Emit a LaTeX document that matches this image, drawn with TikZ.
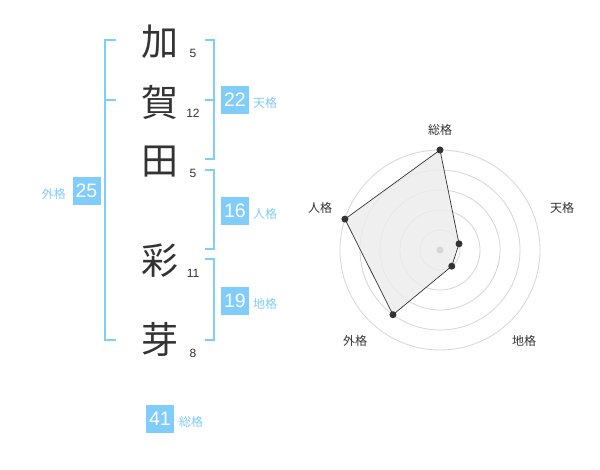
\documentclass[tikz,border=0pt]{standalone}
\usepackage{fontspec}
\setmainfont{Liberation Sans}
\newfontfamily\cjk{Noto Sans CJK JP}
\definecolor{sky}{RGB}{128,204,250}
\definecolor{ink}{RGB}{51,51,51}
\definecolor{ring}{RGB}{214,214,214}
\begin{document}
\begin{tikzpicture}[x=1pt,y=-1pt,
  kanji/.style={font=\cjk\fontsize{37}{37}\selectfont, text=ink, inner sep=0pt},
  strokes/.style={font=\fontsize{12}{12}\selectfont, text=ink, inner sep=0pt},
  numbox/.style={fill=sky, text=white, minimum width=28pt, minimum height=28pt, inner sep=0pt, font=\fontsize{19.5}{19.5}\selectfont},
  kaku/.style={font=\cjk\fontsize{12}{12}\selectfont, text=sky, inner sep=0pt},
  brk/.style={draw=sky, line width=2pt},
  rlabel/.style={font=\cjk\fontsize{12}{12}\selectfont, text=ink, inner sep=0pt},
  pt/.style={circle, fill=ink, inner sep=0pt, minimum size=7pt},
]
\useasboundingbox (0,0) rectangle (600,470);
\fill[white] (0,0) rectangle (600,470);

% kanji
\node[kanji] (k1) at (160,42) {加};
\node[kanji] (k2) at (160,102) {賀};
\node[kanji] (k3) at (160,162) {田};
\node[kanji] (k4) at (160,261) {彩};
\node[kanji] (k5) at (160,339) {芽};
% stroke counts
\node[strokes] (s1) at (193,53) {5};
\node[strokes] (s2) at (193,113) {12};
\node[strokes] (s3) at (193,173) {5};
\node[strokes] (s4) at (193,273) {11};
\node[strokes] (s5) at (193,353) {8};

% outer bracket (left)
\coordinate (la) at (116,40);
\coordinate (lb) at (116,340);
\draw[brk] (la) -- (105,40) -- (105,340) -- (lb);
\draw[brk] (105,100) -- (116,100);

% right brackets
\draw[brk] (205,40) -- (214,40) -- (214,159) -- (205,159);
\draw[brk] (205,100) -- (214,100);
\draw[brk] (205,170) -- (214,170) -- (214,249) -- (205,249);
\draw[brk] (205,259) -- (214,259) -- (214,340) -- (205,340);

% boxes
\node[numbox] (ten) at (235,100) {22};
\node[kaku, anchor=west] (tenl) at (253,103) {天格};
\node[numbox] (jin) at (235,211) {16};
\node[kaku, anchor=west] (jinl) at (253,214) {人格};
\node[numbox] (chi) at (235,301) {19};
\node[kaku, anchor=west] (chil) at (253,304) {地格};
\node[numbox] (gai) at (86.5,191) {25};
\node[kaku, anchor=east] (gail) at (66,194) {外格};
\node[numbox] (sou) at (160,419) {41};
\node[kaku, anchor=west] (soul) at (179,422) {総格};

% radar chart
\begin{scope}[shift={(440,250)}, yscale=-1]
  \foreach \r in {20,40,60,80,100} \draw[ring, line width=0.8pt] (0,0) circle (\r);
  \coordinate (pS) at (90:100);
  \coordinate (pT) at (18:20);
  \coordinate (pC) at (-54:20);
  \coordinate (pG) at (-126:80);
  \coordinate (pJ) at (162:100);
  \filldraw[fill=gray!15, fill opacity=0.8, draw=ink, line width=0.7pt] (pS) -- (pT) -- (pC) -- (pG) -- (pJ) -- cycle;
  \node[circle, fill=ring, inner sep=0pt, minimum size=7pt] (cen) at (0,0) {};
  \node[pt] (nS) at (pS) {};
  \node[pt] (nT) at (pT) {};
  \node[pt] (nC) at (pC) {};
  \node[pt] (nG) at (pG) {};
  \node[pt] (nJ) at (pJ) {};
  \node[rlabel] (lS) at (0,120) {総格};
  \node[rlabel] (lT) at (122,42) {天格};
  \node[rlabel] (lC) at (84,-91) {地格};
  \node[rlabel] (lG) at (-85,-91) {外格};
  \node[rlabel] (lJ) at (-120,42) {人格};
\end{scope}
\end{tikzpicture}
\end{document}
